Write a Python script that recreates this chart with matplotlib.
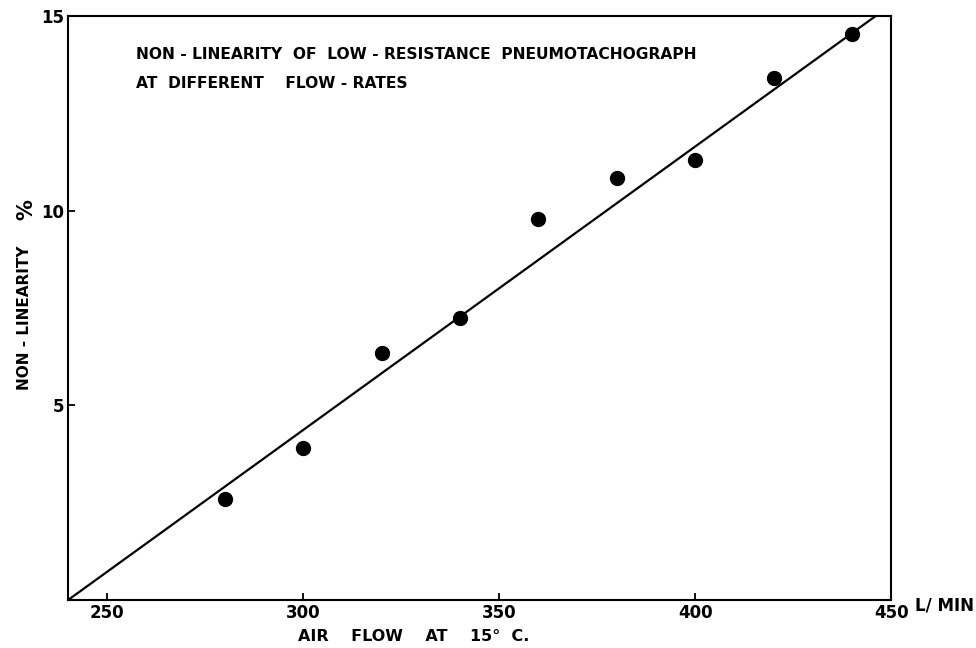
import numpy as np
import matplotlib
matplotlib.use('Agg')
import matplotlib.pyplot as plt

flow = [280, 300, 320, 340, 360, 380, 400, 420, 440]
nonlin = [2.6, 3.9, 6.35, 7.25, 9.8, 10.85, 11.3, 13.4, 14.55]

# fitted line drawn through the points
line_x = [240, 446]
line_y = [0, 15]

x_ticks = [250, 300, 350, 400, 450]
y_ticks = [5, 10, 15]

def main():
    plt.rcParams['font.family'] = ['DejaVu Sans']
    fig = plt.figure(figsize=(9.76, 6.48), dpi=100)
    ax = fig.add_axes([0.0697, 0.074, 0.8433, 0.901])

    ax.plot(line_x, line_y, color='black', lw=1.6, solid_capstyle='butt')
    ax.plot(flow, nonlin, 'o', color='black', ms=10)

    ax.set_xlim(240, 450)
    ax.set_ylim(0, 15)
    ax.set_xticks(x_ticks)
    ax.set_yticks(y_ticks)
    ax.set_xticklabels([str(t) for t in x_ticks])
    ax.set_yticklabels([str(t) for t in y_ticks])
    ax.tick_params(direction='in', length=5, width=1.3, labelsize=12,
                   pad=3)
    for lab in ax.get_xticklabels() + ax.get_yticklabels():
        lab.set_fontweight('bold')
    for s in ax.spines.values():
        s.set_linewidth(1.5)

    # title inside the frame
    ax.text(0.082, 0.935, 'NON - LINEARITY  OF  LOW - RESISTANCE  PNEUMOTACHOGRAPH',
            transform=ax.transAxes, fontsize=11.2, fontweight='bold',
            va='center', ha='left')
    ax.text(0.082, 0.885, 'AT  DIFFERENT    FLOW - RATES',
            transform=ax.transAxes, fontsize=11.2, fontweight='bold',
            va='center', ha='left')

    # axis labels
    fig.text(0.305, 0.018, 'AIR    FLOW    AT    15\u00b0  C.', fontsize=11.5,
             fontweight='bold', ha='left', va='center')
    fig.text(0.938, 0.066, 'L/ MIN', fontsize=12, fontweight='bold',
             ha='left', va='center')
    fig.text(0.025, 0.51, 'NON - LINEARITY', fontsize=11, fontweight='bold',
             rotation=90, ha='center', va='center')
    fig.text(0.027, 0.676, '%', fontsize=15, fontweight='bold',
             rotation=90, ha='center', va='center')

    fig.savefig('out.png', dpi=100)

if __name__ == '__main__':
    main()
